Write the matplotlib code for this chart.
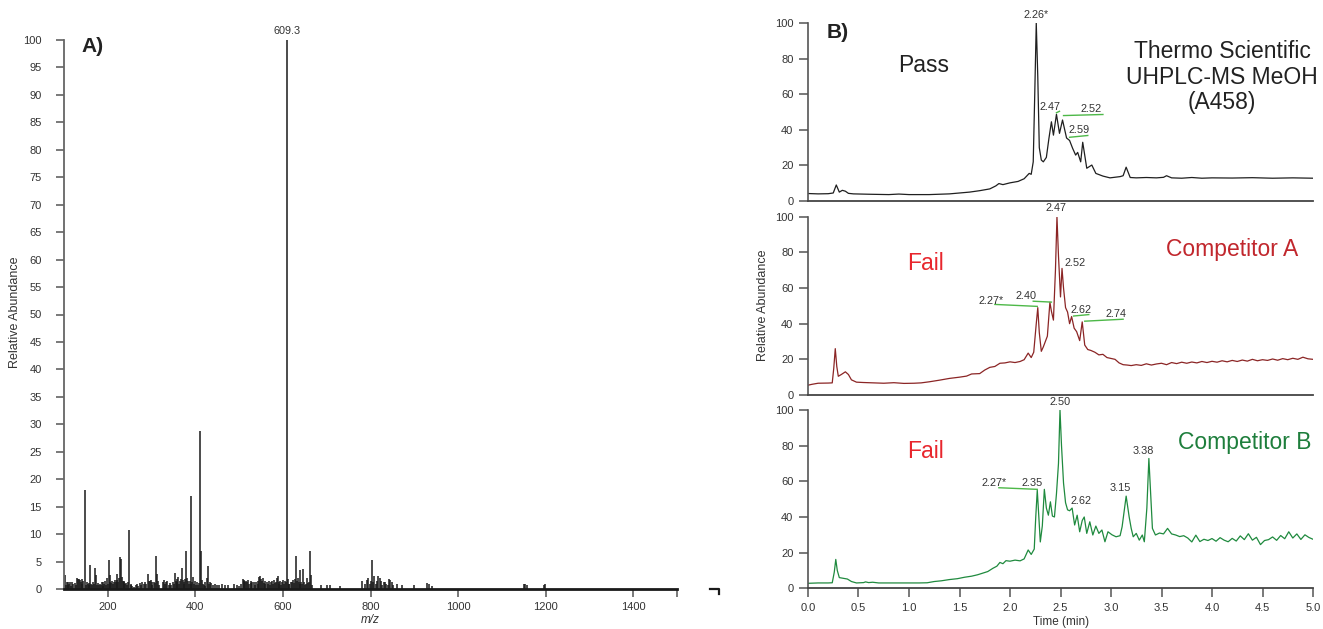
import matplotlib
matplotlib.use("Agg")
import matplotlib.pyplot as plt
from matplotlib.lines import Line2D

plt.rcParams['font.family'] = ['Liberation Sans', 'DejaVu Sans']

# ---------------- Panel A: mass spectrum ----------------
ms_mz = [101, 102.5, 104, 106, 108, 110, 112, 114, 116, 118, 121, 124, 127, 130, 132, 134, 136, 138, 140, 142, 144,
         148, 150, 152, 154, 156, 158, 160, 162, 164, 166, 168, 171, 173, 175, 177, 179, 182, 184, 186, 188, 190,
         192, 194, 196, 198, 200, 202, 204, 206, 208, 210, 212, 214, 216, 218, 220, 222, 224, 226, 228, 230, 232,
         234, 236, 238, 240, 242, 244, 246, 249.5, 252, 254, 256, 260, 264, 267, 270, 273, 276, 279, 282, 285, 288,
         291, 294, 296, 298, 300, 302, 305, 308, 311, 313, 315, 317, 326, 328, 330, 333, 336, 339, 342, 345, 348,
         351, 353, 355, 357, 359, 361, 363, 365, 367, 369, 371, 373, 375, 377, 379, 381, 383, 385, 387, 389, 391,
         393, 395, 397, 399, 401, 404, 406, 408, 411, 413, 415, 417, 419, 421, 423, 426, 428, 431, 434, 436, 440,
         445, 450, 455, 460, 468, 475, 488, 496, 500, 505, 508, 510, 512, 514, 516, 518, 520, 523, 526, 528, 530,
         533, 536, 539, 542, 544, 546, 548, 550, 552, 554, 556, 558, 560, 563, 566, 568, 570, 573, 576, 578, 580,
         582, 584, 586, 588, 590, 592, 594, 596, 598, 600, 603, 605, 607, 609.3, 611, 613, 615, 618, 620, 622, 625,
         628, 630, 632, 634, 636, 638, 640, 642, 644, 646, 648, 650, 653, 656, 658, 660, 662, 664, 666, 688, 700,
         708, 730, 780, 788, 792, 795, 798, 800, 803, 806, 809, 812, 815, 818, 821, 824, 827, 830, 833, 836, 839,
         842, 845, 848, 852, 860, 872, 900, 930, 934, 940, 1150, 1152, 1157, 1196, 1198]
ms_int = [0.9, 2.6, 0.7, 1.2, 0.8, 1.3, 1.0, 1.3, 0.6, 1.3, 0.9, 1.1, 0.8, 2.0, 1.9, 1.8, 1.7, 1.2, 1.9, 1.0, 1.5,
          18.0, 0.8, 1.2, 0.9, 1.1, 0.7, 4.3, 1.0, 0.8, 1.3, 0.9, 3.8, 2.6, 0.8, 1.1, 0.7, 1.0, 0.8, 1.3, 0.6, 1.2,
          0.9, 1.4, 0.8, 2.0, 0.9, 5.2, 1.3, 2.5, 1.1, 1.4, 0.9, 1.2, 1.6, 1.3, 2.8, 1.7, 1.2, 2.0, 5.8, 5.5, 2.2,
          1.5, 1.2, 1.4, 0.9, 1.1, 0.8, 1.3, 10.7, 0.8, 1.0, 0.6, 0.4, 0.7, 0.9, 0.6, 1.1, 0.7, 1.3, 0.9, 1.2, 1.0,
          2.8, 1.5, 1.4, 1.6, 1.2, 0.7, 1.3, 1.1, 6.0, 2.8, 1.4, 0.8, 1.3, 1.6, 0.9, 1.2, 1.5, 0.7, 1.1, 0.8, 1.3,
          1.0, 2.9, 1.5, 1.9, 1.2, 2.2, 1.0, 1.4, 1.8, 3.8, 1.6, 0.9, 1.2, 1.9, 7.0, 2.0, 1.4, 1.0, 1.5, 0.9, 16.9,
          1.2, 2.2, 1.0, 1.5, 0.8, 1.3, 0.8, 1.1, 28.7, 7.0, 1.6, 1.0, 0.7, 1.2, 0.6, 2.0, 4.2, 0.9, 1.3, 1.1, 0.8,
          0.9, 0.8, 0.7, 0.9, 0.8, 0.7, 0.9, 0.8, 0.6, 1.0, 1.9, 1.4, 1.6, 1.3, 1.5, 1.2, 1.6, 0.9, 1.4, 1.1, 1.3,
          1.2, 0.8, 1.3, 1.0, 1.5, 2.2, 2.4, 1.9, 1.4, 2.0, 1.1, 1.5, 0.9, 1.3, 1.0, 1.4, 0.8, 1.2, 1.4, 0.9, 1.6,
          1.1, 1.3, 2.0, 2.4, 1.2, 1.0, 1.4, 0.8, 1.2, 1.6, 1.0, 1.4, 1.2, 100.0, 1.8, 1.0, 0.9, 1.3, 1.2, 1.6, 1.1,
          1.8, 6.0, 1.5, 2.0, 1.2, 1.0, 3.5, 1.3, 1.0, 3.6, 1.2, 0.8, 1.0, 2.0, 1.1, 1.3, 7.0, 2.6, 0.8, 0.7, 0.7,
          0.7, 0.5, 1.5, 1.0, 1.6, 2.0, 0.9, 1.5, 5.3, 1.2, 2.4, 1.0, 1.5, 2.3, 2.0, 1.4, 0.8, 1.2, 1.3, 1.0, 0.8,
          1.9, 1.6, 1.2, 0.8, 1.0, 0.8, 0.7, 1.1, 0.9, 0.5, 0.9, 1.0, 0.8, 0.8, 1.0]
ms_label = ("609.3", 609.3, 100.0)
ms_xticks = [200, 400, 600, 800, 1000, 1200, 1400]
ms_yticks = list(range(0, 101, 5))

# ---------------- Panel B: chromatograms ----------------
pass_t = [0.00, 0.10, 0.20, 0.25, 0.28, 0.31, 0.34, 0.37, 0.40, 0.45, 0.60, 0.80, 0.90, 1.00, 1.20, 1.40, 1.60,
          1.70, 1.80, 1.86, 1.89, 1.93, 2.00, 2.08, 2.14, 2.19, 2.21, 2.23, 2.245, 2.26, 2.275, 2.29, 2.31, 2.33,
          2.36, 2.385, 2.41, 2.43, 2.46, 2.49, 2.52, 2.56, 2.59, 2.62, 2.65, 2.67, 2.70, 2.72, 2.76, 2.81, 2.85,
          2.92, 2.99, 3.09, 3.12, 3.15, 3.19, 3.25, 3.35, 3.45, 3.52, 3.55, 3.60, 3.70, 3.80, 3.90, 4.00, 4.20,
          4.40, 4.60, 4.80, 5.00]
pass_v = [4.2, 4.0, 4.1, 4.5, 9.0, 5.0, 6.0, 5.5, 4.3, 4.0, 3.8, 3.6, 3.9, 3.6, 3.6, 4.0, 5.0, 5.8, 6.8, 8.5,
          9.8, 9.2, 10.2, 11.0, 12.5, 15.5, 15.0, 22.0, 60.0, 100.0, 70.0, 30.0, 23.0, 22.0, 24.5, 35.0, 44.5,
          37.0, 48.7, 38.0, 45.5, 35.4, 34.0, 29.6, 25.8, 27.3, 22.0, 33.0, 18.4, 20.2, 15.5, 14.0, 13.0, 13.7,
          14.2, 19.0, 13.2, 13.0, 13.2, 13.0, 13.3, 14.2, 13.0, 12.8, 13.2, 12.8, 13.0, 12.9, 13.1, 12.8, 13.0, 12.8]

compA_t = [0.00, 0.04, 0.10, 0.20, 0.24, 0.255, 0.27, 0.285, 0.30, 0.33, 0.37, 0.40, 0.43, 0.48, 0.55, 0.65,
           0.75, 0.85, 0.95, 1.05, 1.12, 1.20, 1.30, 1.40, 1.50, 1.57, 1.62, 1.70, 1.75, 1.80, 1.85, 1.90, 1.95,
           2.00, 2.05, 2.10, 2.14, 2.18, 2.21, 2.235, 2.26, 2.275, 2.29, 2.31, 2.33, 2.35, 2.37, 2.395, 2.41,
           2.43, 2.45, 2.465, 2.48, 2.50, 2.515, 2.53, 2.55, 2.57, 2.59, 2.61, 2.635, 2.66, 2.69, 2.715, 2.74,
           2.77, 2.80, 2.84, 2.88, 2.92, 2.96, 3.00, 3.04, 3.08, 3.12, 3.16, 3.20, 3.25, 3.30, 3.35, 3.40, 3.45,
           3.50, 3.55, 3.60, 3.65, 3.70, 3.75, 3.80, 3.85, 3.90, 3.95, 4.00, 4.05, 4.10, 4.15, 4.20, 4.25, 4.30,
           4.35, 4.40, 4.45, 4.50, 4.55, 4.60, 4.65, 4.70, 4.75, 4.80, 4.85, 4.90, 4.95, 5.00]
compA_v = [5.5, 6.0, 6.6, 6.7, 6.8, 15.0, 26.0, 16.0, 10.5, 11.5, 13.0, 11.5, 8.5, 7.2, 7.0, 6.8, 6.6, 6.9, 6.5,
           6.6, 6.8, 7.4, 8.3, 9.3, 10.0, 10.6, 11.8, 12.0, 14.0, 15.5, 16.0, 17.8, 18.0, 18.6, 18.2, 18.8, 19.8,
           23.5, 21.0, 24.0, 40.0, 49.0, 35.0, 24.5, 27.0, 30.0, 33.0, 52.0, 47.0, 42.0, 70.0, 100.0, 78.0, 55.0,
           71.0, 60.0, 49.0, 46.5, 40.0, 44.0, 37.5, 35.5, 30.5, 41.0, 28.0, 25.5, 25.0, 24.0, 22.5, 22.8, 21.0,
           20.5, 20.0, 18.0, 17.0, 16.8, 16.5, 17.0, 16.6, 17.5, 16.8, 17.4, 17.8, 17.0, 18.2, 17.6, 18.4, 17.8,
           18.5, 18.0, 18.8, 18.2, 18.9, 18.4, 19.2, 18.6, 19.4, 18.8, 19.6, 19.0, 20.0, 19.2, 19.8, 19.4, 20.2,
           19.5, 20.4, 19.8, 20.6, 20.0, 21.2, 20.3, 20.0]

compB_t = [0.00, 0.10, 0.20, 0.24, 0.26, 0.275, 0.29, 0.31, 0.35, 0.39, 0.43, 0.48, 0.55, 0.57, 0.60, 0.64, 0.70,
           0.80, 0.90, 1.00, 1.10, 1.18, 1.25, 1.32, 1.40, 1.48, 1.55, 1.62, 1.68, 1.72, 1.78, 1.83, 1.87, 1.90,
           1.93, 1.96, 2.00, 2.05, 2.10, 2.14, 2.18, 2.21, 2.24, 2.255, 2.27, 2.285, 2.30, 2.32, 2.34, 2.36, 2.38,
           2.40, 2.42, 2.44, 2.46, 2.48, 2.495, 2.51, 2.53, 2.55, 2.57, 2.59, 2.615, 2.64, 2.665, 2.69, 2.715,
           2.735, 2.76, 2.79, 2.82, 2.85, 2.88, 2.91, 2.94, 2.97, 3.01, 3.05, 3.09, 3.11, 3.15, 3.18, 3.20, 3.22,
           3.25, 3.28, 3.31, 3.33, 3.355, 3.375, 3.395, 3.41, 3.44, 3.48, 3.52, 3.56, 3.60, 3.64, 3.68, 3.72, 3.76,
           3.80, 3.84, 3.88, 3.92, 3.96, 4.00, 4.04, 4.08, 4.12, 4.16, 4.20, 4.24, 4.28, 4.32, 4.36, 4.40, 4.44,
           4.48, 4.52, 4.56, 4.60, 4.64, 4.68, 4.72, 4.76, 4.80, 4.84, 4.88, 4.92, 4.96, 5.00]
compB_v = [2.8, 3.0, 3.0, 3.1, 9.0, 16.2, 10.0, 6.0, 5.6, 5.2, 3.8, 3.0, 3.2, 3.6, 3.2, 3.4, 3.0, 3.0, 3.0, 3.0,
           3.0, 3.1, 3.8, 4.2, 4.9, 5.4, 6.2, 6.8, 7.6, 8.3, 9.4, 11.2, 12.4, 14.5, 13.8, 15.5, 15.2, 15.8, 15.4,
           16.5, 21.5, 19.0, 22.0, 40.0, 55.0, 40.0, 26.0, 35.0, 55.5, 45.0, 41.0, 48.5, 40.5, 40.0, 53.0, 70.0,
           100.0, 80.0, 59.0, 48.0, 44.0, 43.5, 45.0, 35.5, 41.0, 31.7, 38.0, 40.0, 30.8, 37.3, 29.9, 34.9, 30.8,
           32.7, 26.1, 31.7, 30.0, 28.9, 29.5, 34.5, 51.7, 40.0, 33.6, 28.9, 30.8, 27.0, 29.9, 26.1, 45.0, 72.8,
           50.0, 33.6, 29.9, 31.0, 30.5, 33.6, 30.5, 29.9, 29.0, 29.5, 28.2, 26.0, 29.8, 26.2, 27.5, 26.8, 27.9,
           26.4, 28.4, 27.0, 26.1, 28.0, 26.5, 29.4, 27.3, 30.6, 27.0, 28.6, 24.5, 26.8, 27.3, 28.8, 26.9, 29.6,
           27.8, 31.7, 28.2, 30.5, 27.4, 30.0, 28.5, 27.5]

# peak labels: (text, x, y)
pass_labels = [("2.26*", 2.26, 101.5), ("2.47", 2.40, 50.0), ("2.52", 2.80, 48.8), ("2.59", 2.68, 37.0)]
pass_leaders = [((2.46, 2.49), (49.6, 50.4)), ((2.53, 2.92), (48.0, 48.6)), ((2.59, 2.77), (35.8, 36.8))]
compA_labels = [("2.47", 2.46, 102.0), ("2.52", 2.64, 71.5), ("2.40", 2.16, 52.5), ("2.27*", 1.81, 50.0),
                ("2.62", 2.70, 44.8), ("2.74", 3.05, 42.6)]
compA_leaders = [((2.23, 2.41), (52.6, 52.1)), ((1.85, 2.27), (50.8, 49.7)), ((2.63, 2.78), (44.3, 45.1)),
                 ((2.74, 3.12), (41.4, 42.5))]
compB_labels = [("2.50", 2.50, 101.5), ("2.35", 2.22, 56.5), ("2.27*", 1.84, 56.0), ("2.62", 2.70, 46.0),
                ("3.15", 3.09, 53.5), ("3.38", 3.32, 74.0)]
compB_leaders = [((1.89, 2.27), (56.4, 55.5))]

t_ticks = [0.0, 0.5, 1.0, 1.5, 2.0, 2.5, 3.0, 3.5, 4.0, 4.5, 5.0]
ab_ticks = [0, 20, 40, 60, 80, 100]

# ---------------- figure ----------------
W, H = 1323, 629
fig = plt.figure(figsize=(W / 100, H / 100), dpi=100)

def box(x0, x1, y_top, y_bot):
    return [x0 / W, 1 - y_bot / H, (x1 - x0) / W, (y_bot - y_top) / H]

txt = '#333333'

# Panel A
axA = fig.add_axes(box(64, 677, 40, 589))
axA.vlines(ms_mz, 0, ms_int, colors='#1a1a1a', linewidth=1.1)
axA.set_xlim(100, 1500)
axA.set_ylim(0, 100)
axA.set_xticks(ms_xticks + [1500])
axA.set_xticklabels([str(v) for v in ms_xticks] + [""])
axA.set_yticks(ms_yticks)
axA.set_yticklabels([str(v) for v in ms_yticks])
for s in ['top', 'right']:
    axA.spines[s].set_visible(False)
axA.spines['left'].set_color('#666666')
axA.spines['left'].set_linewidth(1.3)
axA.spines['bottom'].set_color('#1a1a1a')
axA.spines['bottom'].set_linewidth(2.0)
axA.tick_params(axis='y', direction='out', length=6, width=1.1, colors='#555555', labelcolor=txt,
                labelsize=8, pad=10)
axA.tick_params(axis='x', direction='out', length=6, width=1.1, colors='#555555', labelcolor=txt,
                labelsize=8, pad=3)
axA.text(ms_label[1], ms_label[2] + 0.8, ms_label[0], ha='center', va='bottom', fontsize=7.8, color=txt,
         clip_on=False)
fig.text(93 / W, 1 - 47 / H, "A)", fontsize=15, fontweight='bold', color='#222222', ha='center', va='center')
fig.text(15 / W, 1 - 312 / H, "Relative Abundance", rotation=90, fontsize=9, color=txt, ha='center', va='center')
fig.text(370 / W, 1 - 620 / H, "m/z", fontsize=8.5, style='italic', color=txt, ha='center', va='center')
fig.add_artist(Line2D([710 / W, 719 / W, 719 / W], [1 - 589 / H, 1 - 589 / H, 1 - 594 / H],
                      color='#1a1a1a', linewidth=1.6))

# Panel B
rows = [
    (pass_t, pass_v, '#1f1f1f', pass_labels, pass_leaders, 23, 201),
    (compA_t, compA_v, '#8b2525', compA_labels, compA_leaders, 216.7, 395),
    (compB_t, compB_v, '#1f8a3e', compB_labels, compB_leaders, 410, 588.3),
]
axes_b = []
for i, (tt, vv, col, labs, leads, ytop, ybot) in enumerate(rows):
    ax = fig.add_axes(box(808, 1313, ytop, ybot))
    ax.plot(tt, vv, color=col, linewidth=0.9)
    ax.set_xlim(0, 5)
    ax.set_ylim(0, 100)
    ax.set_yticks(ab_ticks)
    ax.set_yticklabels([str(v) for v in ab_ticks])
    for s in ['top', 'right']:
        ax.spines[s].set_visible(False)
    ax.spines['left'].set_color('#555555')
    ax.spines['left'].set_linewidth(1.2)
    ax.spines['bottom'].set_color('#444444')
    ax.spines['bottom'].set_linewidth(1.3)
    ax.tick_params(direction='out', length=6.5, width=1.1, colors='#555555', labelcolor=txt, labelsize=8, pad=4)
    if i < 2:
        ax.tick_params(axis='x', bottom=False, labelbottom=False)
    else:
        ax.set_xticks(t_ticks)
        ax.set_xticklabels([f"{v:.1f}" for v in t_ticks])
    for (xs, ys) in leads:
        ax.plot(xs, ys, color='#4db848', linewidth=1.0, clip_on=False)
    for (s, x, y) in labs:
        ax.text(x, y, s, ha='center', va='bottom', fontsize=7.8, color=txt, clip_on=False)
    axes_b.append(ax)

fig.text(838 / W, 1 - 33 / H, "B)", fontsize=15, fontweight='bold', color='#222222', ha='center', va='center')
fig.text(924 / W, 1 - 66 / H, "Pass", fontsize=16.5, color='#222222', ha='center', va='center')
fig.text(1222 / W, 1 - 77 / H, "Thermo Scientific\nUHPLC-MS MeOH\n(A458)", fontsize=16.5, color='#222222',
         ha='center', va='center', linespacing=1.15)
fig.text(925 / W, 1 - 263 / H, "Fail", fontsize=16.5, color='#e8262d', ha='center', va='center')
fig.text(1232 / W, 1 - 249 / H, "Competitor A", fontsize=16.5, color='#c1272d', ha='center', va='center')
fig.text(925 / W, 1 - 452 / H, "Fail", fontsize=16.5, color='#e8262d', ha='center', va='center')
fig.text(1245 / W, 1 - 442 / H, "Competitor B", fontsize=16.5, color='#1e7e3c', ha='center', va='center')
fig.text(763 / W, 1 - 305 / H, "Relative Abundance", rotation=90, fontsize=9, color=txt, ha='center', va='center')
fig.text(1061 / W, 1 - 622 / H, "Time (min)", fontsize=8.5, color=txt, ha='center', va='center')

fig.savefig("out.png", dpi=100, facecolor='white')
